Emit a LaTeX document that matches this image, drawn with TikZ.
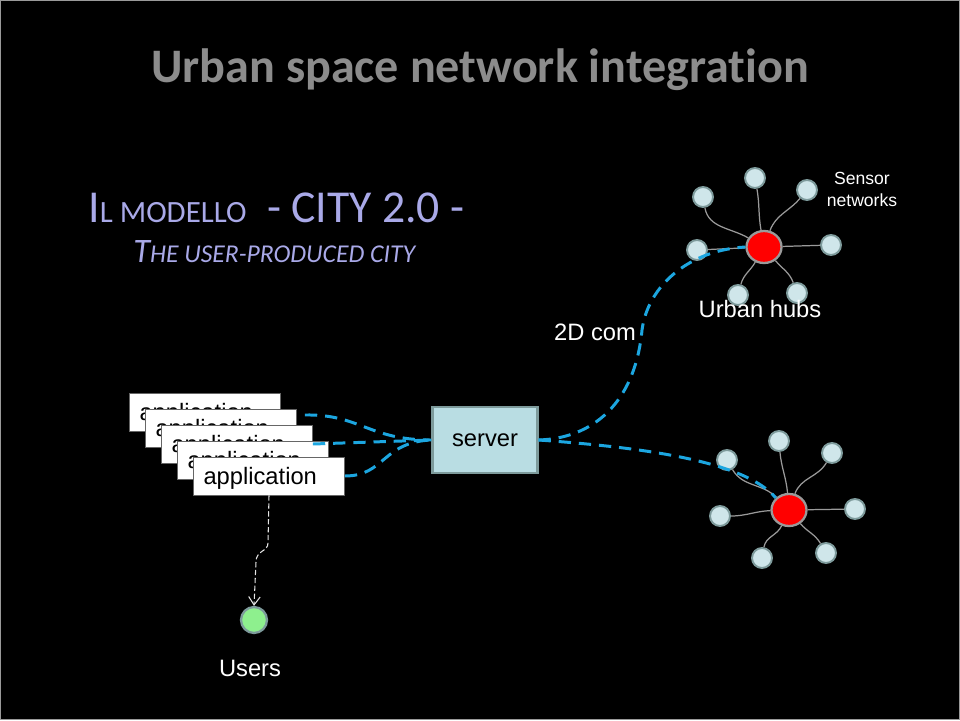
\documentclass[tikz,border=0pt]{standalone}
\usepackage{fontspec}
\setmainfont{Liberation Sans}
\newfontfamily\calfont[Ligatures=NoCommon]{Carlito}
\usetikzlibrary{arrows.meta,shapes.geometric}
\definecolor{frameline}{HTML}{9A9A9A}
\definecolor{titlegray}{HTML}{8C8C8C}
\definecolor{subviolet}{HTML}{A9A9E8}
\definecolor{comblue}{HTML}{1CA6E0}
\definecolor{sensfill}{HTML}{CFE6EA}
\definecolor{sensline}{HTML}{7D9A9B}
\definecolor{hubline}{HTML}{9A9A9A}
\definecolor{srvfill}{HTML}{B9DDE3}
\definecolor{userfill}{HTML}{8EF08E}

\begin{document}
\begin{tikzpicture}[x=0.02cm,y=-0.02cm,
sensor/.style={circle,draw=sensline,fill=sensfill,line width=1.1pt,minimum size=0.4cm,inner sep=0pt},
hub/.style={ellipse,draw=hubline,fill=red,line width=1.3pt,minimum width=0.7cm,minimum height=0.64cm,inner sep=0pt},
link/.style={draw=hubline,line width=0.7pt},
com/.style={draw=comblue,line width=1.7pt,dash pattern=on 7pt off 4.5pt},
app/.style={draw=black!60,fill=white,line width=.5pt,minimum width=3.02cm,minimum height=0.76cm,text width=2.62cm,text height=0.42cm,text depth=0.08cm,inner ysep=0pt,align=left,inner xsep=0.2cm,font=\fontsize{13.5}{16}\selectfont},
srvbox/.style={draw=sensline,fill=srvfill,line width=1.2pt,minimum width=2.1cm,minimum height=1.32cm,inner sep=0pt,font=\fontsize{13.5}{16}\selectfont},
ulink/.style={draw=white!80!gray,line width=.6pt,dash pattern=on 3pt off 1.5pt,-{Straight Barb[angle=70:2mm]}},
lbl/.style={text=white,font=\fontsize{13.5}{16}\selectfont,inner sep=0pt}]
\useasboundingbox (0,0) rectangle (960,720);
\fill[black] (0,0) rectangle (960,720);
\draw[frameline,line width=.6pt] (.5,.5) rectangle (959.5,719.5);

\node[font=\calfont\bfseries\fontsize{27.4}{30}\selectfont,text=titlegray] (title) at (480,70) {Urban space network integration};
\node[anchor=base west,text=subviolet,font=\calfont,inner sep=0pt] (sub1) at (88,222)
 {\fontsize{26}{28}\selectfont I\fontsize{17.6}{20}\selectfont L MODELLO\fontsize{26}{28}\selectfont\ \ - CITY 2.0 -};
\node[anchor=base west,text=subviolet,font=\calfont\itshape,inner sep=0pt] (sub2) at (133,262)
 {\fontsize{19.5}{22}\selectfont T\fontsize{14.6}{17}\selectfont HE USER-PRODUCED CITY};

% upper sensor network
\node[hub] (hubA) at (764,247) {};
\node[sensor] (sa1) at (703,197) {};
\node[sensor] (sa2) at (755,178) {};
\node[sensor] (sa3) at (807,190) {};
\node[sensor] (sa4) at (831,245) {};
\node[sensor] (sa5) at (797,293) {};
\node[sensor] (sa6) at (738,295) {};
\node[sensor] (sa7) at (697,250) {};
\draw[link] (hubA) to[out=150,in=-80] (sa1);
\draw[link] (hubA) to[out=100,in=-80] (sa2);
\draw[link] (hubA) to[out=70,in=-130] (sa3);
\draw[link] (hubA) -- (sa4);
\draw[link] (hubA) to[out=-50,in=110] (sa5);
\draw[link] (hubA) to[out=-120,in=75] (sa6);
\draw[link] (hubA) -- (sa7);

% lower sensor network
\node[hub] (hubB) at (789,510) {};
\node[sensor] (sb1) at (727,460) {};
\node[sensor] (sb2) at (779,441) {};
\node[sensor] (sb3) at (832,453) {};
\node[sensor] (sb4) at (855,509) {};
\node[sensor] (sb5) at (826,553) {};
\node[sensor] (sb6) at (762,558) {};
\node[sensor] (sb7) at (720,516) {};
\draw[link] (hubB) to[out=135,in=-60] (sb1);
\draw[link] (hubB) to[out=95,in=-85] (sb2);
\draw[link] (hubB) to[out=70,in=-120] (sb3);
\draw[link] (hubB) -- (sb4);
\draw[link] (hubB) to[out=-50,in=120] (sb5);
\draw[link] (hubB) to[out=-115,in=80] (sb6);
\draw[link] (hubB) to[out=182,in=0] (sb7);

\node[text=white,font=\fontsize{10}{12.5}\selectfont,align=center,inner sep=0pt] (senslbl) at (862,189) {Sensor\\networks};
\node[lbl] (hubslbl) at (760,309) {Urban hubs};
\node[lbl] (comlbl) at (595,332) {2D com};

% applications, server, users
\foreach \i in {1,...,5}
  \node[app] (app\i) at ({189+16*\i},{396+16*\i}) {application};
\node[srvbox] (srv) at (485,440) {server};
\node[circle,draw=sensline,fill=userfill,line width=1.3pt,minimum size=0.52cm,inner sep=0pt] (user) at (254,620) {};
\node[lbl] (userlbl) at (250,668) {Users};

\draw[ulink] (app5.south) -- (268,543) .. controls (268,552) and (256,550) .. (256,562) -- (user.north);

\draw[com] ([shift={(8,-13)}]app2.east) .. controls (360,414) and (368,440) .. (srv.west);
\draw[com] (app3.east) -- (srv.west);
\draw[com] (app5.east) .. controls (385,476) and (382,442) .. (srv.west);
\draw[com] (srv.east) .. controls (600,438) and (636,395) .. (642,330) .. controls (648,285) and (690,250) .. (hubA.west);
\draw[com] (srv.east) .. controls (650,448) and (745,462) .. (hubB.north west);
\end{tikzpicture}
\end{document}
